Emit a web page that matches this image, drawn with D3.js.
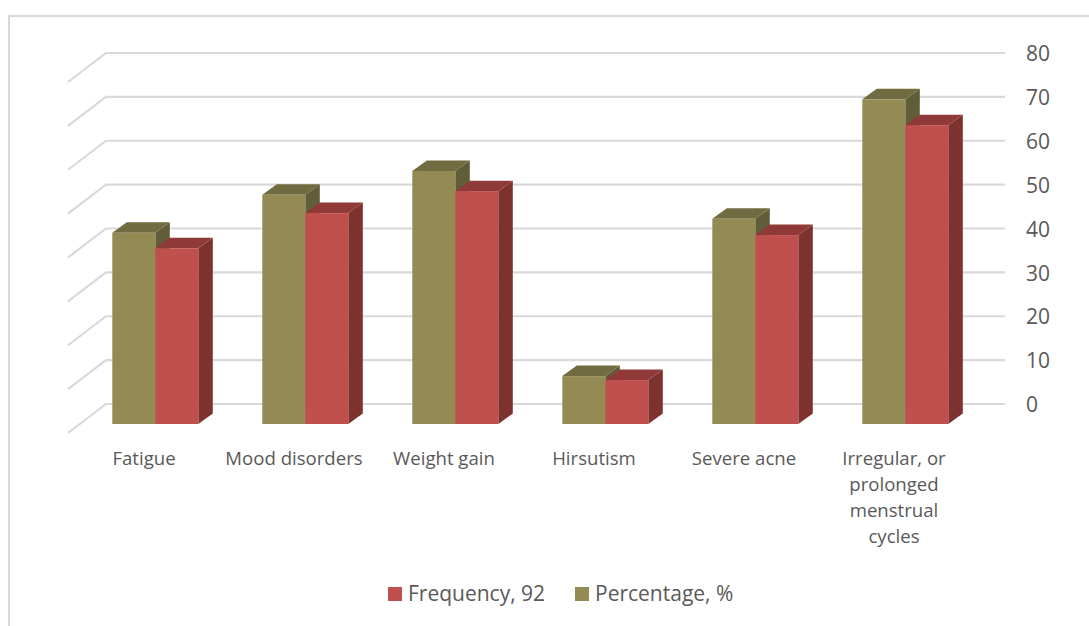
<!DOCTYPE html>
<html>
<head>
<meta charset="utf-8">
<script src="https://cdn.jsdelivr.net/npm/d3@7"></script>
<style>
  html, body { margin: 0; padding: 0; background: #fff; }
  svg { display: block; }
  text { font-family: "Open Sans", sans-serif; fill: #595959; }
</style>
</head>
<body>
<div id="chart"></div>
<script>
var WIDTH = 1089, HEIGHT = 626;

var categories = ["Fatigue", "Mood disorders", "Weight gain", "Hirsutism", "Severe acne", "Irregular, or prolonged menstrual cycles"];
var frequency = [40, 48, 53, 10, 43, 68];
var percentage = [43.5, 52.2, 57.6, 10.9, 46.7, 73.9];
var yTicks = [0, 10, 20, 30, 40, 50, 60, 70, 80];
var seriesNames = ["Percentage, %", "Frequency, 92"];

var colors = {
  "Percentage, %": {front: "#948a54", top: "#716b42", side: "#625d39"},
  "Frequency, 92": {front: "#c0504d", top: "#8f3a38", side: "#7d3230"}
};

// oblique depth of the wall and of one bar
var wallDx = 38, wallDy = 29;
var barDx = 14.5, barDy = 10.5;

var svg = d3.select("#chart").append("svg")
  .attr("width", WIDTH)
  .attr("height", HEIGHT);

// frame, only the left and top edges are inside the picture
svg.append("path")
  .attr("d", "M9,626V16H1089")
  .attr("fill", "none")
  .attr("stroke", "#d9d9d9")
  .attr("stroke-width", 2);

var yBack = d3.scaleLinear().domain([0, 80]).range([404, 53]);
var yFront = d3.scaleLinear().domain([0, 80]).range([424, 72.5]);

var x0 = d3.scaleBand().domain(categories).range([69, 969]);
var x1 = d3.scaleBand().domain(seriesNames).range([43.3, 129.3]);

// walls
svg.append("g").selectAll("path")
  .data(yTicks)
  .enter()
  .append("path")
    .attr("d", function(d) {
      var y = yBack(d);
      return "M" + (106 - wallDx) + "," + (y + wallDy) + "L106," + y + "H1005";
    })
    .attr("fill", "none")
    .attr("stroke", "#d9d9d9")
    .attr("stroke-width", 2.2);

// value axis on the right of the back wall
var yAxis = svg.append("g")
  .attr("transform", "translate(1005,1)")
  .call(d3.axisRight(yBack).tickValues(yTicks).tickSize(0).tickPadding(21));
yAxis.select(".domain").remove();
yAxis.selectAll("text")
  .style("font-family", '"Open Sans", sans-serif')
  .style("font-size", "21px");

// bars
var groups = svg.append("g").selectAll("g")
  .data(categories)
  .enter()
  .append("g")
    .attr("transform", function(d) { return "translate(" + x0(d) + ",0)"; });

var bars = groups.selectAll("g")
  .data(function(d, i) {
    return [
      {name: seriesNames[0], value: percentage[i]},
      {name: seriesNames[1], value: frequency[i]}
    ];
  })
  .enter()
  .append("g");

bars.append("path")
  .attr("d", function(d) {
    var l = x1(d.name), w = x1.bandwidth(), t = yFront(d.value), b = yFront(0);
    return "M" + (l + w) + "," + t + "l" + barDx + "," + (-barDy) + "V" + (b - barDy) + "l" + (-barDx) + "," + barDy + "Z";
  })
  .attr("fill", function(d) { return colors[d.name].side; });

bars.append("path")
  .attr("d", function(d) {
    var l = x1(d.name), w = x1.bandwidth(), t = yFront(d.value);
    return "M" + l + "," + t + "l" + barDx + "," + (-barDy) + "h" + w + "l" + (-barDx) + "," + barDy + "Z";
  })
  .attr("fill", function(d) { return colors[d.name].top; });

bars.append("rect")
  .attr("x", function(d) { return x1(d.name); })
  .attr("y", function(d) { return yFront(d.value); })
  .attr("width", x1.bandwidth())
  .attr("height", function(d) { return yFront(0) - yFront(d.value); })
  .attr("fill", function(d) { return colors[d.name].front; });

// category labels, wrapped by hand to the band width
var labelLines = [["Fatigue"], ["Mood disorders"], ["Weight gain"], ["Hirsutism"], ["Severe acne"], ["Irregular, or", "prolonged", "menstrual", "cycles"]];

groups.append("text")
  .attr("text-anchor", "middle")
  .style("font-size", "18.6px")
  .each(function(d, i) {
    d3.select(this).selectAll("tspan")
      .data(labelLines[i])
      .enter()
      .append("tspan")
        .attr("x", x0.bandwidth() / 2)
        .attr("y", function(line, j) { return 465 + j * 26; })
        .text(function(line) { return line; });
  });

// legend
var legendX = {"Frequency, 92": 388, "Percentage, %": 575};
var legend = svg.append("g").selectAll("g")
  .data(seriesNames)
  .enter()
  .append("g")
    .attr("transform", function(d) { return "translate(" + legendX[d] + ",587)"; });

legend.append("rect")
  .attr("width", 14)
  .attr("height", 14)
  .attr("fill", function(d) { return colors[d].front; });

legend.append("text")
  .attr("x", 20)
  .attr("y", 14)
  .style("font-size", "21px")
  .text(function(d) { return d; });
</script>
</body>
</html>
